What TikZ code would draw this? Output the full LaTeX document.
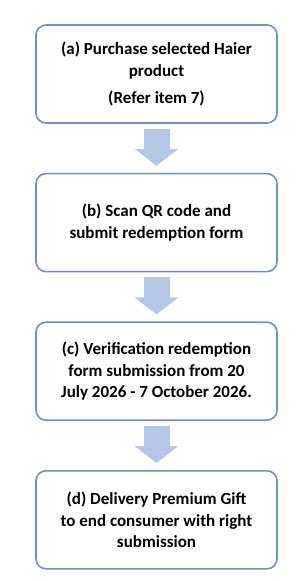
\documentclass[tikz,border=0pt]{standalone}
\usepackage{fontspec}
\setmainfont{Carlito}
\usetikzlibrary{positioning,arrows.meta}
\definecolor{stepline}{RGB}{111,143,203}
\definecolor{arrowfill}{RGB}{180,199,231}
\tikzset{
  stepbox/.style={draw=stepline, line width=1.6pt, rounded corners=10pt,
    minimum width=241pt, minimum height=98pt, inner sep=0pt, align=center,
    font=\fontsize{17}{21.5}\selectfont\bfseries},
  blockarrow/.style={draw=arrowfill, line width=26pt,
    -{Triangle[length=17pt,width=43pt]}, shorten <=5pt, shorten >=7pt}
}
\begin{document}
\begin{tikzpicture}[x=1pt, y=1pt, node distance=49pt]
  \useasboundingbox (0,0) rectangle (305,-582);
  % steps
  \node[stepbox] (a) at (156.5,-74) {(a) Purchase selected Haier\\ product\\[6pt] (Refer item 7)};
  \node[stepbox, below=of a] (b) {(b) Scan QR code and\\ submit redemption form};
  \node[stepbox, below=of b] (c) {(c) Verification redemption\\ form submission from 20\\ July 2026 - 7 October 2026.};
  \node[stepbox, below=of c] (d) {(d) Delivery Premium Gift\\ to end consumer with right\\ submission};
  % block arrows
  \foreach \from/\to in {a/b, b/c, c/d} {
    \draw[blockarrow] (\from.south) -- (\to.north);
  }
\end{tikzpicture}
\end{document}
